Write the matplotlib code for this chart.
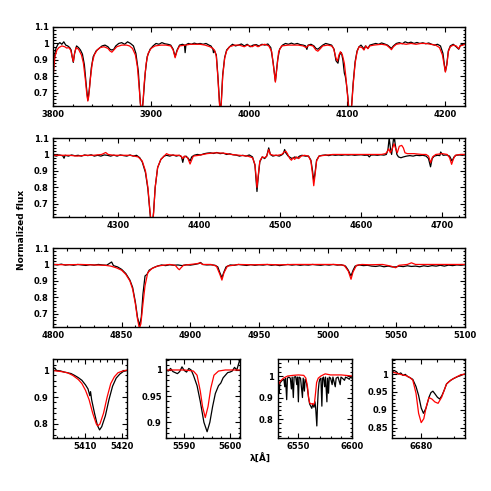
import numpy as np
import matplotlib
matplotlib.use('Agg')
import matplotlib.pyplot as plt
from matplotlib.ticker import MultipleLocator, FuncFormatter

###########################################################
# data (wavelength in A, normalized flux)

# panel 1: 3800-4220
w1_mod = [3800, 3801, 3802, 3804, 3806, 3809, 3812, 3814, 3816, 3818, 3819.5, 3820.7, 3822, 3823.5,
          3826, 3829, 3831, 3833, 3834.5, 3835.5, 3836.5, 3838, 3840, 3842, 3845, 3848, 3852, 3856,
          3858, 3860, 3862, 3865, 3870, 3875, 3878, 3881, 3884, 3886, 3888, 3889.5, 3890.5, 3891.5,
          3893, 3895, 3897, 3900, 3904, 3910, 3915, 3920, 3922.5, 3924.5, 3926.5, 3929, 3935, 3940,
          3950, 3955, 3960, 3963, 3965, 3966.5, 3968, 3969.5, 3970.4, 3971.5, 3973, 3975, 3977, 3980,
          3985, 3990, 3995, 3998, 4003, 4006, 4009, 4012, 4016, 4020, 4023, 4025, 4026.7, 4028, 4030,
          4033, 4040, 4050, 4055, 4058, 4061, 4065, 4068, 4070, 4072, 4075, 4080, 4084, 4086, 4088.5,
          4090, 4091.5, 4093, 4095, 4097, 4098.5, 4100, 4101.5, 4103, 4104.5, 4106, 4108, 4110, 4112,
          4115, 4117, 4119, 4121, 4123, 4127, 4135, 4140, 4143, 4145, 4147, 4150, 4155, 4160, 4165,
          4170, 4175, 4180, 4185, 4190, 4194, 4197, 4199, 4200, 4201.5, 4203, 4205, 4208, 4211,
          4213.6, 4215, 4218, 4220]
f1_mod = [0.78, 0.86, 0.92, 0.96, 0.975, 0.985, 0.98, 0.972, 0.975, 0.96, 0.92, 0.89, 0.94, 0.975,
          0.965, 0.93, 0.88, 0.78, 0.69, 0.65, 0.68, 0.78, 0.88, 0.93, 0.96, 0.975, 0.98, 0.97,
          0.955, 0.947, 0.96, 0.98, 0.99, 0.99, 0.985, 0.97, 0.93, 0.86, 0.72, 0.60, 0.58, 0.62,
          0.76, 0.88, 0.94, 0.97, 0.985, 0.99, 0.99, 0.985, 0.96, 0.913, 0.955, 0.985, 0.99, 0.995,
          0.995, 0.99, 0.98, 0.97, 0.955, 0.92, 0.80, 0.65, 0.58, 0.63, 0.80, 0.91, 0.955, 0.98,
          0.99, 0.99, 0.98, 0.99, 0.98, 0.99, 0.98, 0.99, 0.995, 0.985, 0.95, 0.85, 0.765, 0.84, 0.95,
          0.985, 0.99, 0.99, 0.985, 0.975, 0.99, 0.985, 0.96, 0.953, 0.965, 0.985, 0.99, 0.985, 0.97, 0.91,
          0.893, 0.93, 0.95, 0.93, 0.88, 0.80, 0.70, 0.60, 0.57, 0.62, 0.75, 0.88, 0.95, 0.98,
          0.975, 0.96, 0.985, 0.968, 0.985, 0.99, 0.995, 0.99, 0.975, 0.962, 0.98, 0.995, 1.0, 0.995, 1.0,
          0.995, 1.0, 1.0, 0.995, 0.99, 0.975, 0.93, 0.86, 0.826, 0.87, 0.95, 0.98, 0.99, 0.985,
          0.968, 0.985, 0.99, 0.995]

w1_obs = [3800, 3801, 3802, 3803, 3805, 3807, 3809, 3811, 3813, 3815, 3817, 3818.5, 3819.5, 3820.7,
          3822, 3824, 3826, 3828, 3830, 3832, 3834, 3835.5, 3837, 3839, 3841, 3844, 3847, 3850,
          3853, 3856, 3858, 3860, 3862, 3864, 3867, 3870, 3873, 3876, 3879, 3882, 3884.5, 3887,
          3889, 3890.5, 3892, 3894, 3896, 3899, 3902, 3905, 3908, 3911, 3914, 3917, 3920, 3922.5,
          3924.5, 3926.5, 3929, 3932, 3934, 3934.7, 3935.5, 3938, 3941, 3944, 3947, 3950, 3953,
          3956, 3959, 3961, 3963, 3963.6, 3964.3, 3966.5, 3968, 3969.5, 3970.4, 3971.5, 3973,
          3975, 3977, 3980, 3983, 3986, 3989, 3992, 3995, 3998, 4001, 4004, 4007, 4010, 4013,
          4016, 4019, 4022, 4024.5, 4026.7, 4029, 4031, 4034, 4037, 4040, 4043, 4046, 4049,
          4052, 4055, 4057.5, 4058.8, 4060, 4063, 4066, 4068, 4070, 4072, 4075, 4078, 4081,
          4084, 4086.5, 4088.5, 4090.5, 4092, 4094, 4095.5, 4097, 4098, 4099, 4100.5, 4101.5, 4103,
          4104.5, 4106, 4108, 4110, 4112, 4114, 4116, 4117, 4118.5, 4121, 4123, 4126, 4129,
          4132, 4135, 4138, 4141, 4143, 4145, 4147, 4150, 4153, 4156, 4159, 4162, 4165, 4168,
          4171, 4174, 4177, 4180, 4183, 4186, 4189, 4192, 4195, 4197.5, 4199, 4200, 4201.5, 4203,
          4205, 4208, 4211, 4213.6, 4215.5, 4218, 4220]
f1_obs = [0.80, 0.88, 0.94, 0.97, 0.995, 1.005, 0.995, 1.01, 0.99, 0.985, 0.975, 0.96, 0.92, 0.885,
          0.94, 0.985, 0.975, 0.96, 0.935, 0.87, 0.74, 0.655, 0.72, 0.85, 0.92, 0.955, 0.97, 0.985,
          0.99, 0.98, 0.965, 0.96, 0.965, 0.985, 1.0, 1.005, 0.995, 1.01, 1.0, 0.985, 0.94, 0.83,
          0.64, 0.58, 0.66, 0.82, 0.92, 0.965, 0.985, 1.0, 0.995, 1.005, 0.998, 0.995, 0.99, 0.965,
          0.92, 0.96, 0.99, 0.995, 0.99, 0.944, 0.992, 1.0, 0.995, 1.002, 0.997, 1.0, 0.995,
          1.0, 0.99, 0.985, 0.965, 0.944, 0.96, 0.93, 0.81, 0.66, 0.58, 0.64, 0.81, 0.915,
          0.96, 0.98, 0.995, 0.985, 0.99, 0.997, 0.985, 0.995, 0.98, 0.99, 0.993, 0.985, 0.995,
          0.99, 0.997, 0.975, 0.88, 0.77, 0.9, 0.965, 0.99, 1.0, 0.995, 1.002, 0.995, 1.0,
          0.993, 0.99, 0.985, 0.964, 0.99, 0.995, 0.985, 0.97, 0.965, 0.975, 0.99, 1.0, 0.995,
          0.99, 0.965, 0.895, 0.88, 0.93, 0.945, 0.9, 0.82, 0.80, 0.76, 0.68, 0.61, 0.57,
          0.63, 0.76, 0.89, 0.955, 0.98, 0.99, 0.975, 0.965, 0.985, 0.97, 0.99, 0.995, 1.0,
          0.995, 1.003, 0.997, 0.99, 0.98, 0.97, 0.985, 1.0, 1.005, 0.998, 1.01, 1.003, 1.008, 1.0,
          1.006, 1.0, 1.004, 0.998, 1.003, 0.995, 0.99, 0.995, 0.985, 0.94, 0.87, 0.83, 0.875, 0.955,
          0.985, 0.995, 0.98, 0.965, 0.99, 0.995, 1.0]

# panel 2: 4220-4730
w2_mod = [4220, 4230, 4240, 4250, 4260, 4270, 4280, 4285, 4288, 4295, 4305, 4315, 4320, 4325, 4330,
          4334, 4337, 4339.5, 4341, 4342.5, 4344, 4346, 4349, 4353, 4357, 4360, 4363, 4370, 4375,
          4378, 4380, 4382, 4386, 4388, 4389, 4390.5, 4393, 4400, 4410, 4420, 4430, 4440, 4450,
          4460, 4466, 4469, 4470.5, 4471.5, 4473, 4475, 4478, 4481, 4483.5, 4486, 4488, 4492, 4497,
          4502, 4505, 4507, 4509, 4512, 4514, 4516, 4518, 4520, 4523, 4526, 4530, 4535, 4538, 4540,
          4541.5, 4543, 4545, 4548, 4555, 4565, 4575, 4585, 4595, 4605, 4615, 4625, 4630, 4632,
          4634, 4636, 4638, 4640.5, 4642.5, 4644.5, 4647, 4650, 4652, 4654, 4657, 4665, 4675, 4680,
          4683, 4685.7, 4688, 4692, 4700, 4706, 4709, 4711.5, 4713.5, 4716, 4722, 4730]
f2_mod = [0.995, 0.995, 0.995, 0.99, 0.995, 0.995, 1.0, 1.012, 1.0, 0.995, 0.995, 0.995, 0.99, 0.985, 0.96,
          0.90, 0.80, 0.66, 0.58, 0.57, 0.64, 0.80, 0.92, 0.97, 0.99, 1.005, 0.998, 0.995, 0.995,
          0.99, 0.975, 0.99, 0.98, 0.955, 0.942, 0.96, 0.99, 0.995, 1.005, 1.01, 1.008, 1.0, 0.995,
          0.99, 0.98, 0.94, 0.86, 0.80, 0.87, 0.96, 0.985, 0.98, 0.99, 1.03, 1.0, 0.995, 0.995,
          1.0, 1.015, 1.02, 1.005, 0.975, 0.965, 0.98, 0.97, 0.985, 0.975, 0.99, 0.995, 0.99, 0.96, 0.88,
          0.81, 0.87, 0.96, 0.99, 0.995, 1.0, 1.0, 1.0, 1.0, 1.0, 1.0, 1.0, 1.005, 1.015,
          1.035, 1.01, 1.03, 1.065, 1.035, 1.01, 1.05, 1.055, 1.04, 1.01, 1.005, 1.005, 1.0, 1.0,
          0.99, 0.95, 0.985, 1.0, 1.005, 1.0, 0.98, 0.94, 0.97, 0.995, 1.0, 1.0]

w2_obs = [4220, 4224, 4228, 4232, 4233.6, 4235, 4239, 4243, 4247, 4251, 4255, 4259, 4263, 4267, 4271,
          4275, 4279, 4283, 4287, 4291, 4295, 4299, 4303, 4307, 4311, 4315, 4319, 4323, 4327,
          4330, 4334, 4337, 4339.5, 4341, 4342.5, 4344, 4346, 4349, 4353, 4357, 4360, 4364, 4368,
          4372, 4376, 4378.5, 4380, 4381.5, 4384, 4387, 4389, 4391, 4394, 4398, 4402, 4406, 4410,
          4414, 4418, 4422, 4426, 4430, 4434, 4438, 4442, 4446, 4450, 4454, 4458, 4462, 4466,
          4469, 4470.5, 4471.5, 4473, 4475, 4478, 4481, 4483.5, 4486, 4488, 4491, 4495, 4499, 4502,
          4504, 4505.6, 4507, 4510, 4513, 4515, 4518, 4521, 4524, 4527, 4531, 4535, 4538, 4540,
          4541.5, 4543, 4545, 4548, 4552, 4556, 4560, 4564, 4568, 4572, 4576, 4580, 4584, 4588,
          4592, 4596, 4600, 4604, 4608, 4610, 4612, 4616, 4620, 4624, 4628, 4631, 4633, 4634.5, 4636,
          4637.5, 4639, 4640.5, 4642, 4644, 4646, 4649, 4652, 4656, 4660, 4664, 4668, 4672, 4676,
          4680, 4683, 4685.5, 4687.5, 4690, 4694, 4697, 4698, 4701, 4705, 4709, 4712, 4714.5, 4717,
          4721, 4725, 4730]
f2_obs = [0.995, 0.99, 0.997, 0.992, 0.977, 0.995, 0.99, 0.997, 0.992, 0.995, 0.99, 0.997, 0.993, 0.998, 0.99,
          0.995, 0.99, 0.997, 0.995, 0.99, 0.996, 0.99, 0.997, 0.993, 0.99, 0.997, 0.99, 0.995, 0.98,
          0.955, 0.89, 0.79, 0.65, 0.58, 0.58, 0.65, 0.80, 0.92, 0.97, 0.99, 0.995, 0.99, 0.997,
          0.99, 0.995, 0.985, 0.952, 0.985, 0.99, 0.975, 0.96, 0.985, 0.995, 1.0, 0.997, 1.004, 1.008,
          1.01, 1.006, 1.012, 1.005, 1.008, 1.0, 1.004, 0.998, 0.996, 0.99, 0.995, 0.99, 0.997, 0.985,
          0.935, 0.84, 0.775, 0.86, 0.955, 0.985, 0.975, 0.99, 1.04, 1.0, 0.99, 0.995, 0.99, 0.997,
          1.005, 1.03, 1.01, 0.99, 0.98, 0.975, 0.985, 0.978, 0.99, 0.995, 0.99, 0.99, 0.965, 0.9,
          0.84, 0.885, 0.965, 0.99, 0.995, 0.997, 0.993, 0.998, 0.995, 0.997, 0.995, 0.998, 0.996, 0.998,
          0.995, 0.997, 0.998, 0.995, 0.996, 0.985, 0.996, 0.997, 0.995, 0.998, 0.996, 1.0, 1.03, 1.1, 1.04,
          1.0, 1.06, 1.12, 1.06, 1.0, 0.985, 0.98, 0.985, 0.99, 0.993, 0.99, 0.995, 0.993, 0.995,
          0.99, 0.975, 0.925, 0.975, 0.99, 0.995, 0.993, 1.015, 0.995, 0.997, 0.99, 0.96, 0.985, 0.995,
          0.997, 0.995, 0.998]

# panel 3: 4800-5100
w3_mod = [4800, 4810, 4820, 4830, 4838, 4842, 4846, 4850, 4853, 4856, 4858, 4860, 4861.5, 4862.9, 4864,
          4865.5, 4867, 4869, 4872, 4876, 4880, 4885, 4889, 4891, 4892, 4893, 4895, 4900, 4905, 4907,
          4909, 4915, 4919, 4921.5, 4923, 4924.5, 4927, 4935, 4945, 4955, 4965, 4975, 4985, 4995,
          5005, 5012, 5015, 5017, 5018.5, 5021, 5025, 5030, 5040, 5046, 5049.5, 5052, 5058, 5061,
          5064, 5070, 5080, 5090, 5100]
f3_mod = [1.0, 0.998, 1.0, 0.997, 0.995, 0.99, 0.98, 0.965, 0.94, 0.90, 0.85, 0.76, 0.67, 0.61, 0.64,
          0.76, 0.87, 0.95, 0.975, 0.99, 0.995, 1.0, 0.995, 0.975, 0.968, 0.978, 0.995, 1.0, 1.005, 1.01,
          1.0, 1.0, 0.99, 0.94, 0.905, 0.95, 0.99, 1.0, 0.998, 1.0, 0.998, 1.0, 1.0, 1.0,
          1.0, 0.995, 0.96, 0.91, 0.955, 0.995, 1.0, 0.998, 1.0, 0.99, 0.98, 0.995, 1.0, 1.01,
          1.0, 1.0, 1.0, 1.0, 1.0]

w3_obs = [4800, 4803, 4806, 4809, 4812, 4815, 4818, 4821, 4824, 4827, 4830, 4833, 4836, 4839, 4842.7,
          4844, 4847, 4850, 4853, 4856, 4858, 4860, 4861.5, 4863, 4864.3, 4865.5, 4867, 4868.5,
          4870, 4873, 4876, 4879, 4882, 4885, 4888, 4891, 4894, 4897, 4900, 4903, 4906, 4907.5,
          4909, 4912, 4915, 4918, 4920, 4921.5, 4923, 4924.5, 4926, 4929, 4932, 4935, 4938, 4941,
          4944, 4947, 4950, 4953, 4956, 4959, 4962, 4965, 4968, 4971, 4974, 4977, 4980, 4983, 4986,
          4989, 4992, 4995, 4998, 5001, 5004, 5007, 5010, 5013, 5015, 5017, 5018.5, 5020, 5023,
          5026, 5029, 5032, 5035, 5038, 5041, 5044, 5047, 5049.5, 5052, 5055, 5058, 5061, 5064,
          5067, 5070, 5073, 5076, 5079, 5082, 5085, 5088, 5091, 5094, 5097, 5100]
f3_obs = [1.0, 0.997, 1.002, 0.996, 0.999, 0.995, 1.0, 0.997, 0.994, 0.999, 0.996, 1.0, 0.997, 0.995, 1.015,
          0.993, 0.985, 0.97, 0.945, 0.905, 0.86, 0.77, 0.68, 0.63, 0.68, 0.82, 0.93, 0.94,
          0.965, 0.98, 0.99, 0.997, 0.993, 0.998, 0.995, 0.997, 0.993, 0.998, 0.996, 1.0, 1.005, 1.012,
          1.0, 0.997, 0.998, 0.995, 0.985, 0.95, 0.92, 0.955, 0.985, 0.997, 0.995, 1.0, 0.997, 0.994,
          0.999, 0.995, 0.998, 0.996, 1.0, 0.995, 0.998, 0.993, 0.997, 1.0, 0.996, 0.999, 0.995, 0.998, 0.996,
          1.0, 0.997, 0.995, 0.999, 0.996, 1.0, 0.996, 0.998, 0.99, 0.965, 0.93, 0.965, 0.99, 0.997,
          0.993, 0.995, 0.99, 0.988, 0.992, 0.986, 0.99, 0.985, 0.985, 0.99, 0.987, 0.992, 0.988, 0.99,
          0.986, 0.992, 0.988, 0.993, 0.99, 0.995, 0.99, 0.996, 0.993, 0.997, 0.995, 0.998]

# panel 4: He II 5411
w4_mod = [5401, 5403, 5405, 5406.5, 5408, 5409, 5410, 5411, 5412, 5413, 5413.4, 5414, 5415, 5416,
          5417, 5418, 5419, 5420, 5421.5]
f4_mod = [0.998, 0.995, 0.99, 0.98, 0.965, 0.95, 0.925, 0.89, 0.84, 0.80, 0.793, 0.80, 0.84, 0.9,
          0.95, 0.975, 0.99, 0.995, 1.0]
w4_obs = [5401, 5401.5, 5402, 5403, 5404, 5405, 5406, 5407, 5408, 5409, 5410, 5410.7, 5411.2, 5411.4,
          5411.7, 5412.5, 5413.3, 5413.9, 5414.5, 5415.5, 5416.5, 5417.5, 5418.5, 5419.5, 5420.5, 5421.5]
f4_obs = [1.002, 1.008, 0.998, 0.997, 0.993, 0.99, 0.987, 0.98, 0.972, 0.962, 0.945, 0.93, 0.905, 0.92,
          0.89, 0.84, 0.795, 0.778, 0.79, 0.83, 0.89, 0.94, 0.97, 0.985, 0.995, 0.998]

# panel 5: O III 5592
w5_mod = [5586, 5590, 5592, 5592.8, 5593.5, 5594, 5594.6, 5595.2, 5595.8, 5596.5, 5597.5, 5599, 5602.2]
f5_mod = [1.0, 1.0, 0.998, 0.99, 0.96, 0.93, 0.909, 0.93, 0.965, 0.99, 0.998, 1.0, 1.0]
w5_obs = [5586, 5586.5, 5587, 5587.5, 5588, 5588.5, 5589, 5589.5, 5590, 5590.5, 5591, 5591.5, 5592,
          5592.8, 5593.5, 5594.3, 5595, 5595.6, 5596.2, 5596.8, 5597.5, 5598, 5598.5, 5599, 5599.5,
          5600, 5600.5, 5601, 5601.5, 5602, 5602.2]
f5_obs = [1.0, 0.998, 1.003, 0.997, 0.995, 0.993, 0.997, 1.006, 0.999, 0.996, 1.003, 1.0, 0.99,
          0.97, 0.94, 0.9, 0.882, 0.9, 0.93, 0.955, 0.97, 0.975, 0.985, 0.99, 0.995,
          0.996, 0.998, 1.005, 1.0, 1.015, 1.02]

# panel 6: H alpha
w6_mod = [6531, 6533, 6536, 6540, 6545, 6550, 6555, 6557, 6558.5, 6559.5, 6560.5, 6562, 6563, 6564,
          6565, 6566, 6567, 6568.5, 6571, 6575, 6580, 6590, 6600]
f6_mod = [0.955, 0.975, 0.99, 1.0, 1.003, 1.005, 1.003, 0.99, 0.95, 0.90, 0.875, 0.87, 0.872, 0.866,
          0.875, 0.92, 0.97, 0.99, 1.0, 1.01, 1.005, 1.005, 1.0]
w6_obs = [6531, 6531.7, 6532.2, 6532.7, 6534, 6535, 6536.5, 6537.3, 6538, 6539.1, 6539.8, 6541,
          6542.5, 6543.5, 6544.2, 6545.3, 6546, 6547.5, 6548.5, 6549.2, 6550, 6550.7, 6552, 6553.8,
          6554.5, 6555.6, 6556.3, 6557.5, 6558.5, 6559.5, 6560.5, 6561.5, 6562.5, 6563.5, 6564.5,
          6565.5, 6566.3, 6567.2, 6567.8, 6568.5, 6569.3, 6570, 6571, 6571.9, 6572.6, 6573.5,
          6574.5, 6575.3, 6576.6, 6577.2, 6578.1, 6578.8, 6580, 6581.5, 6582.2, 6584.4, 6585.2,
          6587, 6589, 6589.7, 6591, 6593, 6594, 6596, 6597.5, 6598.5, 6600]
f6_obs = [0.95, 0.96, 0.92, 0.965, 0.975, 0.98, 0.985, 0.95, 0.99, 0.89, 0.99, 0.995,
          0.99, 0.94, 0.995, 0.90, 0.995, 0.997, 0.96, 0.995, 0.88, 0.995, 0.99, 0.90,
          0.99, 0.93, 0.985, 0.97, 0.94, 0.90, 0.87, 0.86, 0.85, 0.87, 0.855,
          0.88, 0.84, 0.768, 0.86, 0.93, 0.97, 0.985, 0.99, 0.86, 0.99, 0.995,
          0.95, 0.995, 0.88, 0.99, 0.92, 0.995, 0.99, 0.96, 0.995, 0.95, 0.99,
          0.995, 0.96, 0.995, 0.99, 0.98, 0.995, 0.99, 0.985, 0.995, 0.99]

# panel 7: He I 6678
w7_mod = [6671, 6672.5, 6674, 6675.5, 6676.5, 6677.4, 6678.4, 6679.2, 6680, 6680.8, 6681.6, 6682.4,
          6683.3, 6684.2, 6685.2, 6686.3, 6687.8, 6689, 6690.5, 6692, 6693.5]
f7_mod = [1.006, 1.002, 0.998, 0.995, 0.99, 0.983, 0.946, 0.89, 0.864, 0.875, 0.91, 0.934,
          0.93, 0.922, 0.918, 0.935, 0.972, 0.982, 0.99, 0.997, 1.0]
w7_obs = [6671, 6671.6, 6672.3, 6673, 6673.7, 6674.4, 6675.1, 6675.8, 6676.5, 6677.4, 6678.4, 6679.2,
          6680, 6680.7, 6681.5, 6682.4, 6683, 6683.6, 6684.2, 6685, 6685.7, 6686.4, 6687.1, 6687.8,
          6688.5, 6689.2, 6689.9, 6690.6, 6691.3, 6692, 6692.7, 6693.5]
f7_obs = [1.01, 1.004, 1.007, 1.0, 1.003, 0.996, 0.999, 0.993, 0.99, 0.985, 0.965, 0.94,
          0.905, 0.89, 0.905, 0.935, 0.948, 0.952, 0.945, 0.935, 0.93, 0.94, 0.955, 0.972,
          0.978, 0.983, 0.987, 0.99, 0.993, 0.995, 0.998, 1.0]

###########################################################

obs = [(w1_obs, f1_obs), (w2_obs, f2_obs), (w3_obs, f3_obs), (w4_obs, f4_obs),
       (w5_obs, f5_obs), (w6_obs, f6_obs), (w7_obs, f7_obs)]
mod = [(w1_mod, f1_mod), (w2_mod, f2_mod), (w3_mod, f3_mod), (w4_mod, f4_mod),
       (w5_mod, f5_mod), (w6_mod, f6_mod), (w7_mod, f7_mod)]

W, H = 491., 491.


def box(x0, y0, x1, y1):
    # pixel box -> figure fraction
    return [x0/W, 1 - y1/H, (x1 - x0)/W, (y1 - y0)/H]


boxes = [box(53, 27, 465, 106), box(53, 138, 465, 217), box(53, 248, 465, 327),
         box(53, 359, 127, 438), box(166, 359, 240, 438),
         box(278, 359, 352, 438), box(392, 359, 465, 438)]
xlims = [(3800, 4220), (4220, 4728), (4800, 5100), (5401, 5421.5), (5586, 5602.2),
         (6531, 6600), (6671, 6693.5)]
ylims = [(0.62, 1.1), (0.62, 1.1), (0.62, 1.1), (0.748, 1.041), (0.87, 1.021),
         (0.712, 1.079), (0.821, 1.042)]
xmaj = [100, 100, 50, 10, 10, 50, 20]
xmin = [20, 20, 10, 2, 2, 10, 5]
ymaj = [0.1, 0.1, 0.1, 0.1, 0.05, 0.1, 0.05]
ymin = [0.02, 0.02, 0.02, 0.02, 0.01, 0.02, 0.01]

fig = plt.figure(figsize=(4.91, 4.91), dpi=100)
fmt = FuncFormatter(lambda v, p: '%g' % round(v, 4))

for i in range(7):
    ax = fig.add_axes(boxes[i])
    ax.plot(obs[i][0], obs[i][1], color='black', lw=0.9)
    ax.plot(mod[i][0], mod[i][1], color='red', lw=0.9)
    ax.set_xlim(xlims[i])
    ax.set_ylim(ylims[i])
    ax.xaxis.set_major_locator(MultipleLocator(xmaj[i]))
    ax.xaxis.set_minor_locator(MultipleLocator(xmin[i]))
    ax.yaxis.set_major_locator(MultipleLocator(ymaj[i]))
    ax.yaxis.set_minor_locator(MultipleLocator(ymin[i]))
    ax.xaxis.set_major_formatter(fmt)
    ax.yaxis.set_major_formatter(fmt)
    ax.tick_params(which='both', direction='in', top=True, right=True, labelsize=6, pad=3, width=0.8)
    ax.tick_params(which='major', length=3.5)
    ax.tick_params(which='minor', length=1.8)
    for lab in ax.get_xticklabels() + ax.get_yticklabels():
        lab.set_fontweight('bold')
    for s in ax.spines.values():
        s.set_linewidth(1.0)

fig.text(22/W, 1 - 230/H, 'Normalized flux', rotation=90, ha='center', va='center',
         fontsize=6.5, fontweight='bold')
fig.text(260/W, 1 - 459/H, u'\u03bb[\u00c5]', ha='center', va='center', fontsize=6.5, fontweight='bold')

fig.savefig('out.png', dpi=100)
